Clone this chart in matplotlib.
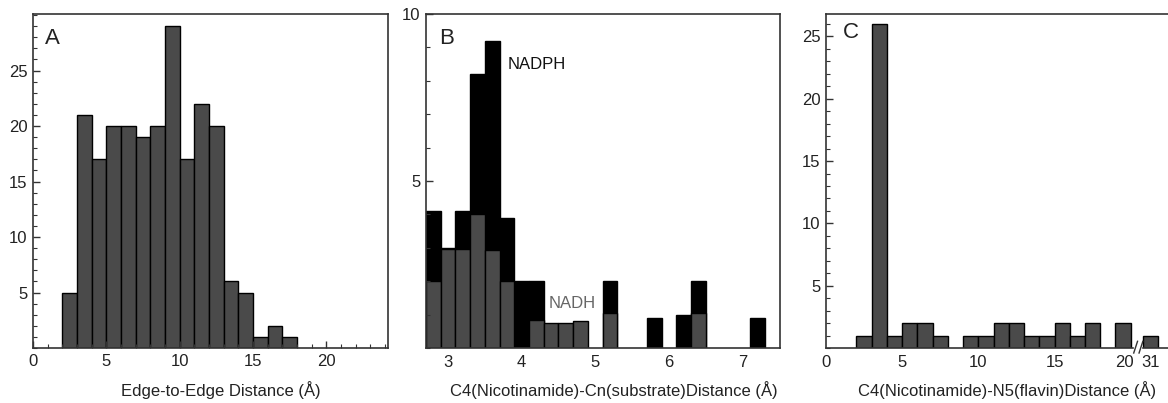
import matplotlib
matplotlib.use("Agg")
import matplotlib.pyplot as plt
import matplotlib.transforms as mtransforms
from matplotlib.ticker import MultipleLocator
import numpy as np

plt.rcParams['font.family'] = ['Liberation Sans', 'DejaVu Sans']

# ---------------- Data ----------------
# Panel A: edge-to-edge distance histogram (1 Å bins, left edges)
a_bin_left = [2, 3, 4, 5, 6, 7, 8, 9, 10, 11, 12, 13, 14, 15, 16, 17]
a_counts = [5, 21, 17, 20, 20, 19, 20, 29, 17, 22, 20, 6, 5, 1, 2, 1]

# Panel B: C4(Nicotinamide)-Cn(substrate) distance (0.2 Å bins, centres)
b_centres = [2.8, 3.0, 3.2, 3.4, 3.6, 3.8, 4.0, 4.2, 4.4, 4.6, 4.8,
             5.2, 5.8, 6.2, 6.4, 7.2]
b_nadph = [4.1, 3.0, 4.1, 8.2, 9.2, 3.9, 2.0, 2.0, 0, 0, 0,
           2.0, 0.9, 1.0, 2.0, 0.9]
b_nadh = [2.0, 2.97, 2.97, 4.0, 2.93, 2.0, 0, 0.85, 0.75, 0.75, 0.82,
          1.05, 0, 0, 1.05, 0]

# Panel C: C4(Nicotinamide)-N5(flavin) distance (1 Å bins, left edges)
c_bin_left = [2, 3, 4, 5, 6, 7, 9, 10, 11, 12, 13, 14, 15, 16, 17, 19]
c_counts = [1, 26, 1, 2, 2, 1, 1, 1, 2, 2, 1, 1, 2, 1, 2, 2]
c_far_value = [31]
c_far_count = [1]
c_xticks = [0, 5, 10, 15, 20]

# ---------------- Style ----------------
GREY = '#4a4a4a'
TXT = '#222222'
SPINE = '#333333'
FS = 12

fig = plt.figure(figsize=(11.68, 4.03), dpi=100)
bottom, height = 55 / 403, 334 / 403
axA = fig.add_axes([33 / 1168, bottom, 355 / 1168, height])
axB = fig.add_axes([426 / 1168, bottom, 354 / 1168, height])
axC = fig.add_axes([826 / 1168, bottom, 342 / 1168, height])


def style(ax):
    for s in ax.spines.values():
        s.set_color(SPINE)
        s.set_linewidth(1.2)
    ax.tick_params(which='both', direction='in', colors=SPINE,
                   labelcolor=TXT, labelsize=FS)
    ax.tick_params(which='major', length=5, width=1)
    ax.tick_params(which='minor', length=3, width=0.8)
    ax.tick_params(axis='x', pad=4)
    ax.tick_params(axis='y', pad=4)


def xlabel(ax, text):
    ax.set_xlabel(text, fontsize=FS, color=TXT)
    ax.xaxis.set_label_coords(0.53, -0.098)


# ---- Panel A ----
style(axA)
axA.bar(a_bin_left, a_counts, width=1, align='edge', color=GREY,
        edgecolor='black', linewidth=1)
axA.set_xlim(0, 24.2)
axA.set_ylim(0, 30.1)
axA.xaxis.set_major_locator(MultipleLocator(5))
axA.xaxis.set_minor_locator(MultipleLocator(1))
axA.yaxis.set_major_locator(MultipleLocator(5))
axA.yaxis.set_minor_locator(MultipleLocator(1))
axA.set_yticks([5, 10, 15, 20, 25])
xlabel(axA, 'Edge-to-Edge Distance (Å)')
axA.text(0.034, 0.958, 'A', transform=axA.transAxes, fontsize=16,
         color=TXT, va='top', ha='left')

# ---- Panel B ----
style(axB)
axB.bar(b_centres, b_nadph, width=0.2, color='black', edgecolor='black',
        linewidth=1)
axB.bar(b_centres, b_nadh, width=0.2, color=GREY, edgecolor='black',
        linewidth=1)
axB.set_xlim(2.7, 7.51)
axB.set_ylim(0, 10)
axB.set_xticks([3, 4, 5, 6, 7])
axB.set_yticks([5, 10])
axB.yaxis.set_minor_locator(MultipleLocator(1))
axB.tick_params(axis='x', length=0, pad=5)
xlabel(axB, 'C4(Nicotinamide)-Cn(substrate)Distance (Å)')
axB.text(0.037, 0.958, 'B', transform=axB.transAxes, fontsize=16,
         color=TXT, va='top', ha='left')
axB.text(3.81, 8.5, 'NADPH', fontsize=FS, color='#111111', va='center',
         ha='left')
axB.text(4.37, 1.33, 'NADH', fontsize=FS, color='#666666', va='center',
         ha='left')

# ---- Panel C (broken x-axis) ----
style(axC)
axC.spines['right'].set_visible(False)
far_shift = 31 - 21.3  # axis break: 31 Å is drawn just after 20 Å
axC.bar(c_bin_left, c_counts, width=1, align='edge', color=GREY,
        edgecolor='black', linewidth=1)
axC.bar([v - far_shift for v in c_far_value], c_far_count, width=1,
        color=GREY, edgecolor='black', linewidth=1)
axC.set_xlim(0, 22.45)
axC.set_ylim(0, 26.8)
tick_pos = c_xticks + [v - far_shift for v in c_far_value]
tick_lab = [str(t) for t in c_xticks] + [str(v) for v in c_far_value]
axC.set_xticks(tick_pos)
axC.set_xticklabels(tick_lab)
axC.tick_params(axis='x', length=0, pad=5)
# nudge "20" label left of the break
lab20 = axC.get_xticklabels()[4]
lab20.set_transform(lab20.get_transform() +
                    mtransforms.ScaledTranslation(-6 / 100, 0, fig.dpi_scale_trans))
axC.set_yticks([5, 10, 15, 20, 25])
axC.yaxis.set_minor_locator(MultipleLocator(1))
xlabel(axC, 'C4(Nicotinamide)-N5(flavin)Distance (Å)')
axC.text(0.05, 0.975, 'C', transform=axC.transAxes, fontsize=16,
         color=TXT, va='top', ha='left')
# break marks
trans = mtransforms.blended_transform_factory(axC.transData, axC.transAxes)
axC.add_patch(plt.Rectangle((20.25, -0.01), 0.45, 0.02, transform=trans,
                            color='white', clip_on=False, zorder=5))
for x0 in (20.2, 20.55):
    axC.plot([x0, x0 + 0.25], [-0.015, 0.02], transform=trans, color=SPINE,
             lw=1, clip_on=False, zorder=6)

fig.savefig('out.png', dpi=100, facecolor='white')
